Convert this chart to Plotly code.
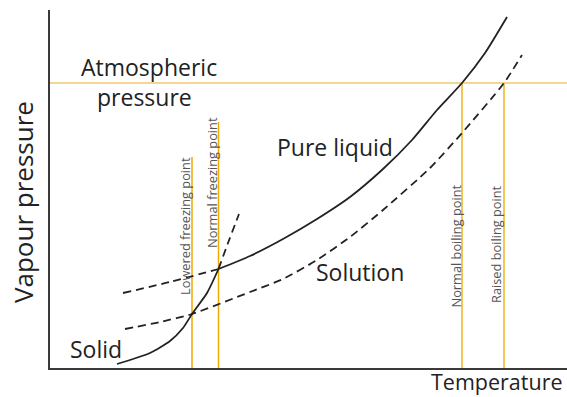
import plotly.graph_objects as go

# Phase diagram sketch: vapour pressure vs temperature (arbitrary units)
# Solid (ice) vapour-pressure curve up to the normal freezing point
solid_T = [117, 150, 170, 183, 192, 207, 218.5]
solid_P = [33, 44, 56, 69, 83, 104, 128]
# Solid curve continued above the melting point (metastable, dashed)
solid_ext_T = [218.5, 228, 239]
solid_ext_P = [128, 154, 183]

# Pure liquid vapour-pressure curve
liquid_T = [218.5, 250, 283, 317, 350, 383, 412, 437, 462, 485, 507]
liquid_P = [128, 141, 158, 178, 200, 228, 257, 287, 314, 344, 380]
# Supercooled liquid (dashed, below the freezing point)
supercool_T = [123, 170, 218.5]
supercool_P = [104, 115, 128]

# Solution vapour-pressure curve (dashed)
solution_T = [125, 160, 192, 250, 283, 317, 350, 383, 430, 462, 504, 522]
solution_P = [68, 75, 83, 105, 118, 137, 160, 187, 229, 264, 314, 342]

P_ATM = 314
freezing_T = {"Lowered freezing point": 192, "Normal freezing point": 218.5}
freezing_top = {"Lowered freezing point": 240, "Normal freezing point": 275}
boiling_T = {"Normal boiling point": 462, "Raised boiling point": 504}

T_MIN, T_MAX = 50, 567
P_MIN, P_MAX = 29, 387
W, H = 567, 397

INK = "#222222"
ORANGE = "#F2A900"
PALE_ORANGE = "#F1C047"
FONT = "Open Sans, Noto Sans, sans-serif"

fig = go.Figure()

def curve(x, y, dash="solid"):
    fig.add_trace(go.Scatter(
        x=x, y=y, mode="lines",
        line=dict(color=INK, width=1.8, dash=dash, shape="spline", smoothing=0.6),
        hoverinfo="skip", showlegend=False, cliponaxis=False))

# Reference lines: atmospheric pressure and the transition temperatures
fig.add_trace(go.Scatter(x=[T_MIN, T_MAX], y=[P_ATM, P_ATM], mode="lines",
                         line=dict(color="#E9AE2A", width=1.2),
                         hoverinfo="skip", showlegend=False))
for name, t in freezing_T.items():
    fig.add_trace(go.Scatter(x=[t, t], y=[P_MIN, freezing_top[name]], mode="lines",
                             line=dict(color=ORANGE, width=1.5),
                             hoverinfo="skip", showlegend=False))
for name, t in boiling_T.items():
    fig.add_trace(go.Scatter(x=[t, t], y=[P_MIN, P_ATM], mode="lines",
                             line=dict(color=PALE_ORANGE, width=1.8),
                             hoverinfo="skip", showlegend=False))

DASH = "8px,5px"
curve(solid_T, solid_P)
curve(solid_ext_T, solid_ext_P, DASH)
curve(liquid_T, liquid_P)
curve(supercool_T, supercool_P, DASH)
curve(solution_T, solution_P, DASH)

def label(text, x, y, size=23, xanchor="center", **kw):
    fig.add_annotation(x=x, y=y, text=text, showarrow=False,
                       xanchor=xanchor, yanchor="middle", borderpad=0,
                       font=dict(family=FONT, size=size, color=INK), **kw)

label("Atmospheric", 149, 330)
label("pressure", 144, 300)
label("Pure liquid", 335, 250)
label("Solution", 360, 125)
label("Solid", 96, 48)
# Axis titles sit outside the plotting area, so they use paper coordinates
label("Temperature", 564 / W, 1 - 381 / H, size=21.5, xanchor="right",
      xref="paper", yref="paper")
label("Vapour pressure", 23 / W, 1 - 202 / H, size=26, xref="paper", yref="paper",
      textangle=-90)

# Small rotated labels beside each transition line
small_pos = {"Lowered freezing point": (185, 100),
             "Normal freezing point": (211.5, 147),
             "Normal boiling point": (455, 87),
             "Raised boiling point": (496, 92)}
for name, (x, y) in small_pos.items():
    fig.add_annotation(x=x, y=y, text=name, showarrow=False, textangle=-90,
                       yanchor="bottom", xanchor="center",
                       font=dict(family="Open Sans, sans-serif", size=12.8, color="#555555"))

axis_common = dict(showgrid=False, zeroline=False, showticklabels=False, ticks="",
                   showline=True, linecolor="#3a3a3a", linewidth=2, fixedrange=True)
fig.update_layout(
    width=W, height=H,
    margin=dict(l=0, r=0, t=0, b=0),
    plot_bgcolor="white", paper_bgcolor="white",
    xaxis=dict(range=[T_MIN, T_MAX], domain=[T_MIN / W, 1], **axis_common),
    yaxis=dict(range=[P_MIN, P_MAX], domain=[P_MIN / H, P_MAX / H], **axis_common),
)

fig.write_html("out.html")
